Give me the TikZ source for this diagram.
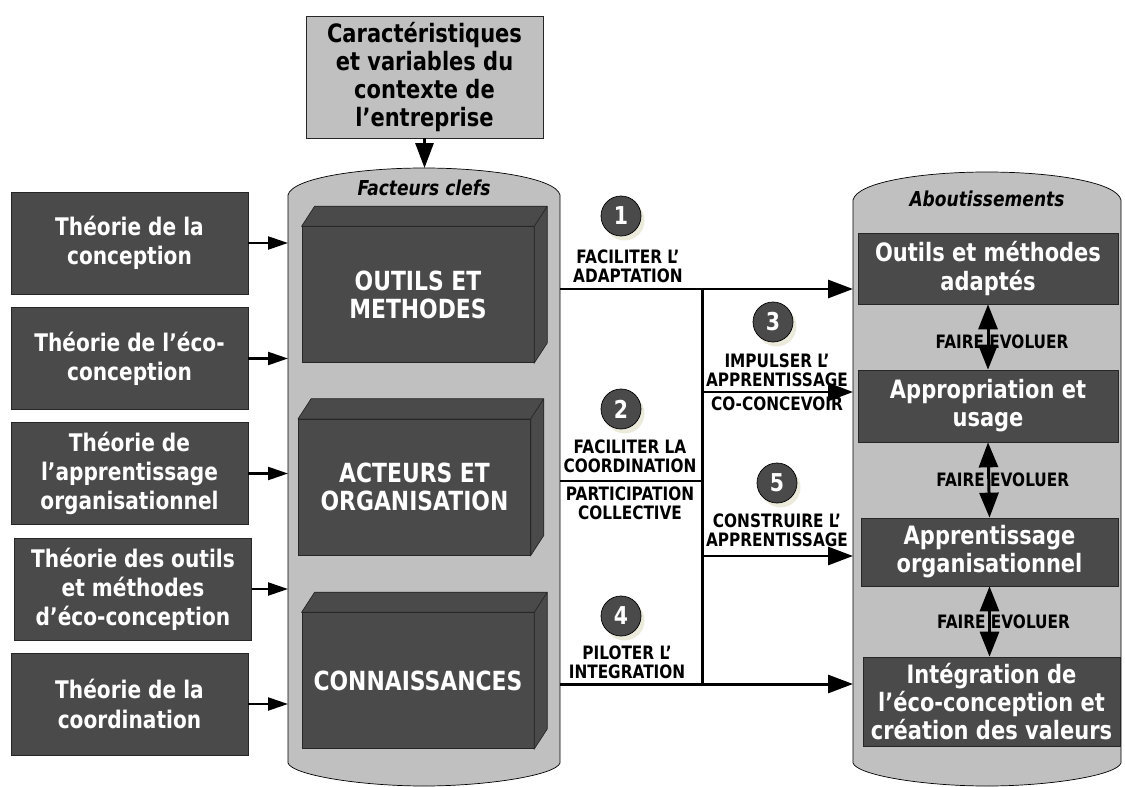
\documentclass[tikz,border=0pt]{standalone}
\usepackage{fontspec}
\setmainfont{DejaVu Sans}[FakeStretch=0.83]
\usetikzlibrary{arrows.meta,shadows}
\definecolor{lgrey}{HTML}{C0C0C0}
\definecolor{dgrey}{HTML}{4A4A4A}
\definecolor{edgegrey}{HTML}{262626}
\definecolor{shade}{HTML}{EBEADB}
\newcommand\theofont{\bfseries\fontsize{13.8}{16.6}\selectfont}
\newcommand\blockfont{\bfseries\fontsize{15}{16}\selectfont}
\newcommand\resfont{\bfseries\fontsize{14.4}{16}\selectfont}
\newcommand\ctxfont{\bfseries\fontsize{14.4}{16}\selectfont}
\newcommand\labfont{\bfseries\fontsize{10.5}{10.8}\selectfont}
\newcommand\numfont{\bfseries\fontsize{14}{14}\selectfont}
\newcommand\headfont{\bfseries\itshape\fontsize{11.7}{11.7}\selectfont}
\begin{document}
\begin{tikzpicture}[x=0.02cm, y=-0.02cm,
  theory/.style={draw=edgegrey, fill=dgrey, text=white, font=\theofont, align=center,
    minimum width=4.74cm, minimum height=2.04cm, inner sep=0pt},
  front/.style={draw=edgegrey, fill=dgrey, text=white, font=\blockfont, align=center,
    minimum width=4.64cm, minimum height=2.72cm, inner sep=0pt},
  face/.style={draw=edgegrey, fill=dgrey},
  result/.style={draw=edgegrey, fill=dgrey, text=white, font=\resfont, align=center, inner sep=0pt},
  lab/.style={font=\labfont, align=center, inner sep=0pt},
  head/.style={font=\headfont, inner sep=0pt},
  num/.style={circle, draw=black, fill=dgrey, text=white, font=\numfont, minimum size=0.8cm,
    inner sep=0pt, drop shadow={shadow xshift=0.07cm, shadow yshift=-0.09cm, fill=shade, opacity=1}},
  feed/.style={line width=1.3pt, -{Triangle[length=0.4cm,width=0.26cm]}},
  link/.style={line width=1.7pt},
  flow/.style={link, -{Triangle[length=0.5cm,width=0.36cm]}},
  both/.style={link, {Triangle[length=0.5cm,width=0.38cm]}-{Triangle[length=0.5cm,width=0.38cm]}},
  fe/.style={font=\labfont, inner sep=0pt, xshift=0.28cm}]

\useasboundingbox (0,0) rectangle (1125,787);

\draw[fill=lgrey] (288,195) .. controls (292,178) and (360,168) .. (424,168)
  .. controls (488,168) and (556,178) .. (560,195) -- (560,763)
  .. controls (556,775) and (488,786) .. (424,786)
  .. controls (360,786) and (292,775) .. (288,763) -- cycle;
\draw[fill=lgrey] (853,200) .. controls (857,182) and (922,172) .. (987,172)
  .. controls (1052,172) and (1117,182) .. (1121,200) -- (1121,763)
  .. controls (1117,775) and (1052,786) .. (987,786)
  .. controls (922,786) and (857,775) .. (853,763) -- cycle;
\coordinate (lcyl) at (288,0);
\coordinate (ltop) at (424.5,168);

\node[head] (fk) at (424,188) {Facteurs clefs};
\node[head] (ab) at (987,199) {Aboutissements};

\node[draw=edgegrey, fill=lgrey, font=\ctxfont, align=center, minimum width=4.74cm,
  minimum height=2.44cm, inner sep=0pt] (ctx) at (424.5,77)
  {Caractéristiques\\et variables du\\contexte de\\l’entreprise};
\draw[flow] (ctx) -- (ltop);

\foreach \n/\x/\y/\t in {a/129.5/243/{Théorie de la\\conception},
  b/129.5/358.5/{Théorie de l’éco-\\conception},
  c/129.5/473.5/{Théorie de\\l’apprentissage\\organisationnel},
  d/133/589/{Théorie des outils\\et méthodes\\d’éco-conception},
  e/129.5/704/{Théorie de la\\coordination}}
{
  \node[theory] (th\n) at (\x,\y) {\t};
  \draw[feed] (th\n.east) -- (th\n.east -| lcyl);
}

\node[front] (om) at (418,294.5) {OUTILS ET\\METHODES};
\node[front] (ao) at (414.5,487) {ACTEURS ET\\ORGANISATION};
\node[front] (co) at (418,680.5) {CONNAISSANCES};
\foreach \n in {om,ao,co}
  \draw[face] (\n.north west) -- ++(13,-20) -| ([shift={(13,-20)}]\n.south east)
    -- (\n.south east) -- (\n.north east) -- cycle
    (\n.north east) -- ++(13,-20);

\node[result, minimum width=5.2cm, minimum height=1.42cm] (r1) at (988,268.5) {Outils et méthodes\\adaptés};
\node[result, minimum width=5.2cm, minimum height=1.44cm] (r2) at (988,406) {Appropriation et\\usage};
\node[result, minimum width=5.14cm, minimum height=1.36cm] (r3) at (989.5,552) {Apprentissage\\organisationnel};
\node[result, minimum width=5.14cm, minimum height=1.78cm] (r4) at (991.5,701.5) {Intégration de\\l’éco-conception et\\création des valeurs};

\draw[both] (r1.south) -- node[fe, yshift=-0.1cm] {FAIRE EVOLUER} (r2.north);
\draw[both] (r2.south) -- node[fe] {FAIRE EVOLUER} (r3.north);
\draw[both] (r3.south) -- node[fe] {FAIRE EVOLUER} (r3.south |- r4.north);

\coordinate (p1) at (560,289); \coordinate (q1) at (853,289);
\coordinate (p2) at (560,481); \coordinate (j2) at (702,481);
\coordinate (p4) at (560,684); \coordinate (q4) at (853,684);
\coordinate (j1) at (702,289); \coordinate (j4) at (702,684);
\coordinate (j3) at (702,392); \coordinate (q3) at (853,392);
\coordinate (j5) at (702,556); \coordinate (q5) at (853,556);
\draw[flow] (p1) -- (q1);
\draw[flow] (p4) -- (q4);
\draw[link] (p2) -- (j2);
\draw[link] (j1) -- (j4);
\draw[flow] (j3) -- (q3);
\draw[flow] (j5) -- (q5);

\foreach \i/\x/\y in {1/621/216, 2/621/409, 3/773/322, 4/621/616, 5/777/483}
  \node[num] (n\i) at (\x,\y) {\i};

\node[lab] (l1) at (628,266.5) {FACILITER L’\\ADAPTATION};
\node[lab] (l3) at (777,370) {IMPULSER L’\\APPRENTISSAGE};
\node[lab] (l3b) at (777,404) {CO-CONCEVOIR};
\node[lab] (l2) at (630,456.5) {FACILITER LA\\COORDINATION};
\node[lab] (l2b) at (630,503) {PARTICIPATION\\COLLECTIVE};
\node[lab] (l5) at (777,530.5) {CONSTRUIRE L’\\APPRENTISSAGE};
\node[lab] (l4) at (627,662.5) {PILOTER L’\\INTEGRATION};
\end{tikzpicture}
\end{document}
